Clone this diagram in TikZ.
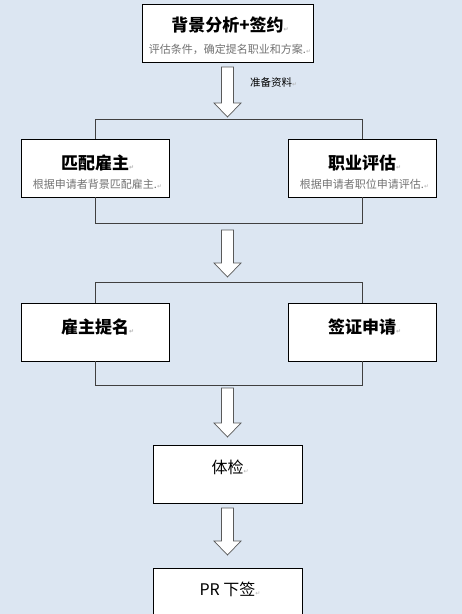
\documentclass[tikz,border=0pt]{standalone}
\usepackage{fontspec}
\newfontfamily\cjk{Noto Sans CJK SC}
\newfontfamily\symfont{DejaVu Sans}
\usetikzlibrary{positioning,calc}

\definecolor{pagebg}{RGB}{220,230,242}
\newcommand\pmark{\rlap{\symfont\fontsize{6}{6}\selectfont\textcolor{gray!60}{↵}}}

\begin{document}
\begin{tikzpicture}[
    x=1pt, y=-1pt,
    box/.style={
        draw=black, line width=0.8pt, fill=white,
        minimum width=#1, minimum height=58, inner sep=0pt
    },
    title/.style={font=\cjk\bfseries\fontsize{17}{20}\selectfont, inner sep=0pt},
    plain/.style={font=\cjk\fontsize{16}{19}\selectfont, inner sep=0pt},
    note/.style={font=\cjk\fontsize{11}{13}\selectfont, text=black!55, inner sep=0pt},
    bracket/.style={draw=black!75, line width=0.8pt},
    blockarr/.style={draw=black!65, fill=white, line width=0.7pt}
]
    \useasboundingbox (0,0) rectangle (462,614);
    \clip (0,0) rectangle (462,614);
    \fill[pagebg] (0,0) rectangle (462,614);

    % Top box
    \node[box=171] (sign) at (227.5,33) {};
    \node[title] (signT) at ([yshift=-21pt]sign.north) {背景分析+签约\pmark};
    \node[note] (signN) at ([yshift=-46pt]sign.north) {评估条件，确定提名职业和方案.\pmark};
    \node[font=\cjk\fontsize{10.5}{12}\selectfont] (prep) at (271,83) {准备资料\pmark};

    % First pair
    \node[box=148] (match) at (95,168) {};
    \node[box=148] (assess) at (362,168) {};
    \node[title] (matchT) at ([yshift=-24pt]match.north) {匹配雇主\pmark};
    \node[note] (matchN) at ([yshift=-46pt]match.north) {根据申请者背景匹配雇主.\pmark};
    \node[title] (assessT) at ([yshift=-24pt]assess.north) {职业评估\pmark};
    \node[note] (assessN) at ([yshift=-46pt]assess.north) {根据申请者职位申请评估.\pmark};
    \draw[bracket] (match.north) -- ++(0,-19) -| (assess.north);
    \draw[bracket] (match.south) -- ++(0,26) -| (assess.south);

    % Second pair
    \node[box=148] (nominate) at (95,332) {};
    \node[box=148] (visa) at (362,332) {};
    \node[title] (nominateT) at ([yshift=-24pt]nominate.north) {雇主提名\pmark};
    \node[title] (visaT) at ([yshift=-24pt]visa.north) {签证申请\pmark};
    \draw[bracket] (nominate.north) -- ++(0,-20) -| (visa.north);
    \draw[bracket] (nominate.south) -- ++(0,24) -| (visa.south);

    % Lower boxes
    \node[box=149] (medical) at (227.5,474.5) {};
    \node[plain] (medicalT) at ([yshift=-22pt]medical.north) {体检\pmark};
    \node[box=149] (grant) at (227.5,597.5) {};
    \node[plain] (grantT) at ([yshift=-21pt]grant.north) {PR 下签\pmark};

    % Hollow block arrows
    \foreach \y/\s in {67/36, 230/33, 388/35, 508/33}
        \draw[blockarr] (221.5,\y) -- ++(0,\s) -- ++(-7.5,0) -- ++(13.5,14)
            -- ++(13.5,-14) -- ++(-7.5,0) -- ++(0,-\s) -- cycle;
\end{tikzpicture}
\end{document}
